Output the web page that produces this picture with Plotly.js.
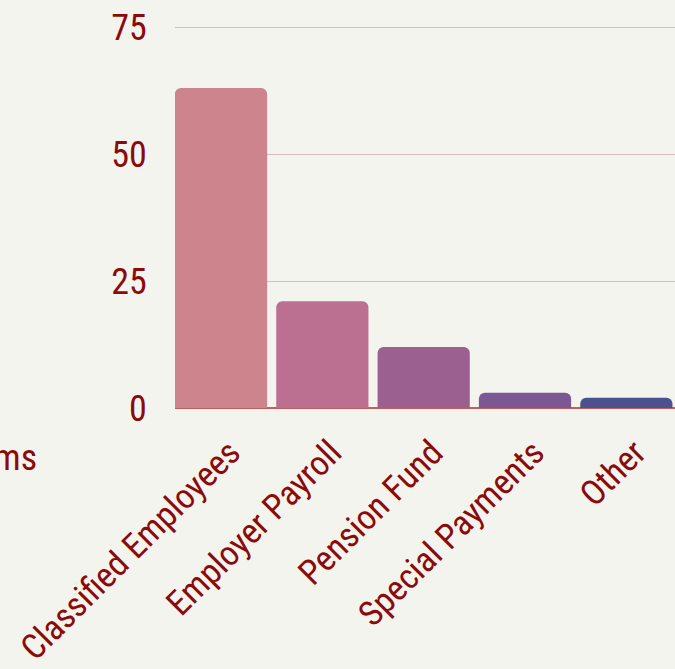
<!DOCTYPE html>
<html>
<head>
<meta charset="utf-8">
<script src="https://cdn.plot.ly/plotly-3.0.1.min.js"></script>
<style>
html,body{margin:0;padding:0;background:#F4F4EF;}
#chart{width:675px;height:669px;}
</style>
</head>
<body>
<div id="chart"></div>
<script>
const categories = ["Classified Employees", "Employer Payroll", "Pension Fund", "Special Payments", "Other"];
const values = [63, 21, 12, 3, 2];
const barColors = ["#CE848C", "#BB6F91", "#9B6090", "#7B5894", "#4B518F"];
const yTickVals = [0, 25, 50, 75];
const sideLabel = "Items";

const FONT = "'Roboto Condensed', 'Liberation Sans Narrow', 'Arial Narrow', Roboto, sans-serif";
const TXT = "#8B0A0A";

const trace = {
  type: "bar",
  x: categories,
  y: values,
  marker: { color: barColors, line: { width: 0 } },
  hoverinfo: "x+y"
};

const layout = {
  width: 675,
  height: 669,
  paper_bgcolor: "#F4F4EF",
  plot_bgcolor: "#F4F4EF",
  margin: { l: 175, r: 0, t: 26, b: 261, pad: 0 },
  bargap: 0.09,
  barcornerradius: 6,
  showlegend: false,
  font: { family: FONT, color: TXT, size: 35 },
  xaxis: {
    type: "category",
    range: [-0.454, 4.48],
    tickangle: -45,
    tickfont: { family: FONT, size: 35, color: TXT },
    ticklabelstandoff: 16,
    ticklabelshift: 9,
    showgrid: false,
    showline: false,
    ticks: "",
    automargin: false
  },
  yaxis: {
    range: [0, 75.2],
    tickvals: yTickVals,
    ticktext: yTickVals.map(String),
    tickfont: { family: FONT, size: 36, color: TXT },
    showgrid: true,
    gridcolor: "#D9BDBD",
    gridwidth: 1,
    zeroline: true,
    zerolinecolor: "#C2605C",
    zerolinewidth: 1.5,
    showline: false,
    ticks: "outside",
    ticklen: 20,
    tickcolor: "rgba(0,0,0,0)",
    automargin: false
  },
  annotations: [{
    xref: "paper", yref: "paper",
    x: -0.272, y: -0.13,
    xanchor: "right", yanchor: "middle",
    text: sideLabel,
    showarrow: false,
    font: { family: FONT, size: 36, color: TXT }
  }]
};

Plotly.newPlot("chart", [trace], layout, { displayModeBar: false, staticPlot: true });
</script>
</body>
</html>
